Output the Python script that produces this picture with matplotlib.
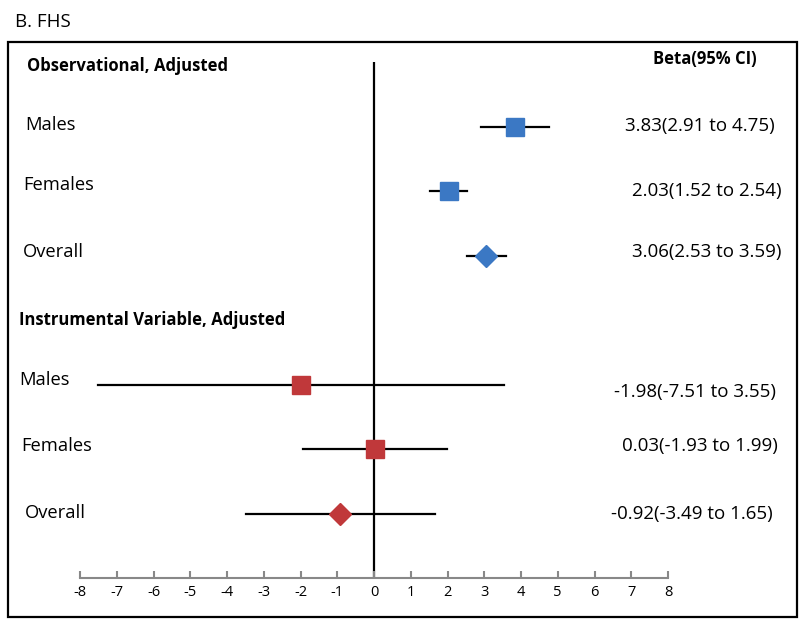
import matplotlib.pyplot as plt
import matplotlib.transforms as mtransforms
from matplotlib.patches import Rectangle

plt.rcParams['font.family'] = ['Open Sans', 'DejaVu Sans']

# estimates and 95% CI
groups = ['Males', 'Females', 'Overall', 'Males', 'Females', 'Overall']
beta = [3.83, 2.03, 3.06, -1.98, 0.03, -0.92]
lower = [2.91, 1.52, 2.53, -7.51, -1.93, -3.49]
upper = [4.75, 2.54, 3.59, 3.55, 1.99, 1.65]
rows = [1, 2, 3, 5, 6, 7]
colors = ['#3b78c4', '#3b78c4', '#3b78c4', '#c0383a', '#c0383a', '#c0383a']
markers = ['s', 's', 'D', 's', 's', 'D']
ci_text = ['3.83(2.91 to 4.75)', '2.03(1.52 to 2.54)', '3.06(2.53 to 3.59)',
           '-1.98(-7.51 to 3.55)', '0.03(-1.93 to 1.99)', '-0.92(-3.49 to 1.65)']
headers = ['Observational, Adjusted', 'Instrumental Variable, Adjusted']
header_rows = [0, 4]
xticks = list(range(-8, 9))

W, H = 800, 619
fig = plt.figure(figsize=(8, 6.19), dpi=100)
ax = fig.add_axes([80 / W, (H - 578) / H, (668 - 80) / W, (578 - 62) / H])
ax.set_xlim(-8, 8)
ax.set_ylim(8, 0)

ax.axvline(0, color='black', lw=1.6, zorder=1)

for i in range(len(beta)):
    ax.plot([lower[i], upper[i]], [rows[i], rows[i]], color='black', lw=1.6, zorder=2)
    ms = 12.5 if markers[i] == 's' else 11
    ax.plot(beta[i], rows[i], marker=markers[i], ms=ms, color=colors[i],
            markeredgecolor=colors[i], zorder=3)

for s in ['top', 'right', 'left']:
    ax.spines[s].set_visible(False)
ax.spines['bottom'].set_color('#888888')
ax.spines['bottom'].set_linewidth(1.5)
ax.set_yticks([])
ax.set_xticks(xticks)
ax.set_xticklabels([str(t) for t in xticks])
ax.tick_params(axis='x', direction='in', length=5, width=1.5, color='#888888',
               labelsize=10.5, pad=5)

trans = mtransforms.blended_transform_factory(fig.transFigure, ax.transData)
label_x = [25, 23, 23, 19, 21, 25]
right_x = [775, 782, 782, 776, 778, 773]
label_dy = [-0.03, -0.1, -0.05, -0.07, -0.05, 0.0]
text_dy = [0.0, 0.0, -0.05, 0.12, -0.05, 0.0]
fs = 13.5
for i in range(len(groups)):
    ax.text(label_x[i] / W, rows[i] + label_dy[i], groups[i], transform=trans,
            fontsize=13.2, va='center', ha='left')
    ax.text(right_x[i] / W, rows[i] + text_dy[i], ci_text[i], transform=trans,
            fontsize=fs, va='center', ha='right')

ax.text(27 / W, header_rows[0] + 0.06, headers[0], transform=trans,
        fontsize=12, fontweight='bold', va='center', ha='left')
ax.text(19 / W, header_rows[1], headers[1], transform=trans,
        fontsize=12, fontweight='bold', va='center', ha='left')
ax.text(757 / W, header_rows[0] - 0.05, 'Beta(95% CI)', transform=trans,
        fontsize=12, fontweight='bold', va='center', ha='right')

fig.patches.append(Rectangle((8 / W, 2 / H), 789 / W, 575 / H, transform=fig.transFigure,
                             fill=False, edgecolor='black', lw=1.6))
fig.text(15 / W, 1 - 22 / H, 'B. FHS', fontsize=13.5, va='center', ha='left')

fig.savefig('out.png', dpi=100)
